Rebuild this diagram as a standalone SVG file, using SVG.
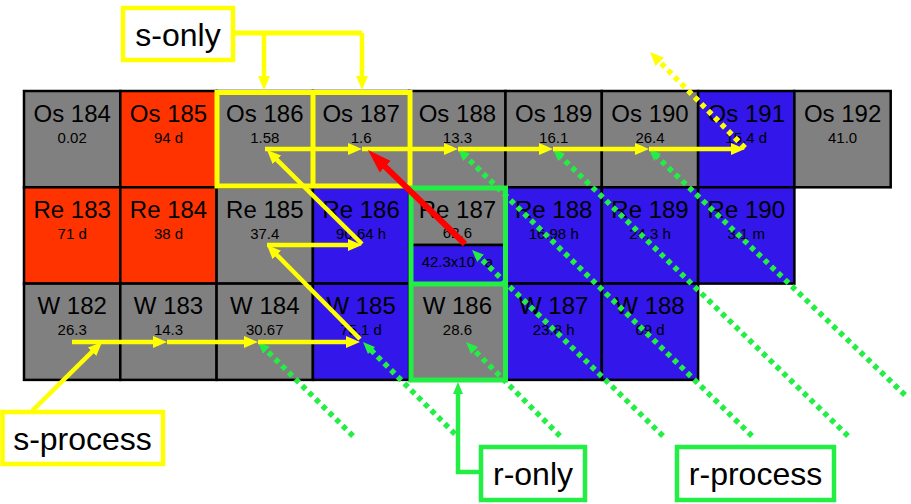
<svg xmlns="http://www.w3.org/2000/svg" width="911" height="504" viewBox="0 0 911 504">
<style>
text{font-family:"Liberation Sans",Arial,sans-serif;fill:#000}
.cell{stroke:#000;stroke-width:2.5}
.g{fill:#808080}.r{fill:#FF3300}.b{fill:#3216EA}
.nm{font-size:24px;text-anchor:middle}
.v{font-size:15px;text-anchor:middle}
.lbl{font-size:32px;text-anchor:middle}
.ys{fill:none;stroke:#FFFF00;stroke-width:5}
.gs{fill:none;stroke:#22EE44;stroke-width:5}
.ya{fill:none;stroke:#FFFF00;stroke-width:4.5;marker-end:url(#ay)}
.ga{fill:none;stroke:#22EE44;stroke-width:4.5;marker-end:url(#ag)}
.gd{fill:none;stroke:#22EE44;stroke-width:5.5;stroke-dasharray:5 4.5;marker-end:url(#ag)}
.yd{fill:none;stroke:#FFFF00;stroke-width:5.5;stroke-dasharray:5 4.5;marker-end:url(#ay)}
.ra{fill:none;stroke:#FF0000;stroke-width:6;marker-end:url(#ar)}
.box{fill:#fff;stroke-width:4.5}
</style>
<defs>
<marker id="ay" markerUnits="userSpaceOnUse" markerWidth="16" markerHeight="14" refX="2" refY="6" orient="auto"><path d="M0,0 L14,6 L0,12 z" fill="#FFFF00"/></marker>
<marker id="ag" markerUnits="userSpaceOnUse" markerWidth="14" markerHeight="12" refX="2" refY="5" orient="auto"><path d="M0,0 L12,5 L0,10 z" fill="#22EE44"/></marker>
<marker id="ar" markerUnits="userSpaceOnUse" markerWidth="26" markerHeight="18" refX="2" refY="8" orient="auto"><path d="M0,0 L24,8 L0,16 z" fill="#FF0000"/></marker>
</defs>
<rect width="911" height="504" fill="#fff"/>

<!-- Row 1: Os -->
<g id="os184"><rect class="cell g" x="24" y="91" width="96.3" height="96.3"/><text class="nm" x="72.2" y="121.5">Os 184</text><text class="v" x="72.2" y="142.5">0.02</text></g>
<g id="os185"><rect class="cell r" x="120.3" y="91" width="96.3" height="96.3"/><text class="nm" x="168.5" y="121.5">Os 185</text><text class="v" x="168.5" y="142.5">94 d</text></g>
<g id="os186"><rect class="cell g" x="216.6" y="91" width="96.3" height="96.3"/><text class="nm" x="264.8" y="121.5">Os 186</text><text class="v" x="264.8" y="142.5">1.58</text></g>
<g id="os187"><rect class="cell g" x="312.9" y="91" width="96.3" height="96.3"/><text class="nm" x="361.1" y="121.5">Os 187</text><text class="v" x="361.1" y="142.5">1.6</text></g>
<g id="os188"><rect class="cell g" x="409.2" y="91" width="96.3" height="96.3"/><text class="nm" x="457.4" y="121.5">Os 188</text><text class="v" x="457.4" y="142.5">13.3</text></g>
<g id="os189"><rect class="cell g" x="505.5" y="91" width="96.3" height="96.3"/><text class="nm" x="553.7" y="121.5">Os 189</text><text class="v" x="553.7" y="142.5">16.1</text></g>
<g id="os190"><rect class="cell g" x="601.8" y="91" width="96.3" height="96.3"/><text class="nm" x="650" y="121.5">Os 190</text><text class="v" x="650" y="142.5">26.4</text></g>
<g id="os191"><rect class="cell b" x="698.1" y="91" width="96.3" height="96.3"/><text class="nm" x="746.3" y="121.5">Os 191</text><text class="v" x="746.3" y="142.5">15.4 d</text></g>
<g id="os192"><rect class="cell g" x="794.4" y="91" width="96.3" height="96.3"/><text class="nm" x="842.6" y="121.5">Os 192</text><text class="v" x="842.6" y="142.5">41.0</text></g>

<!-- Row 2: Re -->
<g id="re183"><rect class="cell r" x="24" y="187.3" width="96.3" height="96.3"/><text class="nm" x="72.2" y="217.8">Re 183</text><text class="v" x="72.2" y="238.8">71 d</text></g>
<g id="re184"><rect class="cell r" x="120.3" y="187.3" width="96.3" height="96.3"/><text class="nm" x="168.5" y="217.8">Re 184</text><text class="v" x="168.5" y="238.8">38 d</text></g>
<g id="re185"><rect class="cell g" x="216.6" y="187.3" width="96.3" height="96.3"/><text class="nm" x="264.8" y="217.8">Re 185</text><text class="v" x="264.8" y="238.8">37.4</text></g>
<g id="re186"><rect class="cell b" x="312.9" y="187.3" width="96.3" height="96.3"/><text class="nm" x="361.1" y="217.8">Re 186</text><text class="v" x="361.1" y="238.8">90.64 h</text></g>
<g id="re187"><rect class="cell g" x="409.2" y="187.3" width="96.3" height="57.7"/><rect class="cell b" x="409.2" y="245" width="96.3" height="38.6"/><text class="nm" x="457.4" y="217.8">Re 187</text><text class="v" x="457.4" y="238.3">62.6</text><text class="v" x="457.4" y="266.5">42.3x10<tspan font-size="10" dy="-6">9</tspan><tspan dy="6"> a</tspan></text></g>
<g id="re188"><rect class="cell b" x="505.5" y="187.3" width="96.3" height="96.3"/><text class="nm" x="553.7" y="217.8">Re 188</text><text class="v" x="553.7" y="238.8">16.98 h</text></g>
<g id="re189"><rect class="cell b" x="601.8" y="187.3" width="96.3" height="96.3"/><text class="nm" x="650" y="217.8">Re 189</text><text class="v" x="650" y="238.8">24.3 h</text></g>
<g id="re190"><rect class="cell b" x="698.1" y="187.3" width="96.3" height="96.3"/><text class="nm" x="746.3" y="217.8">Re 190</text><text class="v" x="746.3" y="238.8">3.1 m</text></g>

<!-- Row 3: W -->
<g id="w182"><rect class="cell g" x="24" y="283.6" width="96.3" height="96.3"/><text class="nm" x="72.2" y="314.1">W 182</text><text class="v" x="72.2" y="335.1">26.3</text></g>
<g id="w183"><rect class="cell g" x="120.3" y="283.6" width="96.3" height="96.3"/><text class="nm" x="168.5" y="314.1">W 183</text><text class="v" x="168.5" y="335.1">14.3</text></g>
<g id="w184"><rect class="cell g" x="216.6" y="283.6" width="96.3" height="96.3"/><text class="nm" x="264.8" y="314.1">W 184</text><text class="v" x="264.8" y="335.1">30.67</text></g>
<g id="w185"><rect class="cell b" x="312.9" y="283.6" width="96.3" height="96.3"/><text class="nm" x="361.1" y="314.1">W 185</text><text class="v" x="361.1" y="335.1">75.1 d</text></g>
<g id="w186"><rect class="cell g" x="409.2" y="283.6" width="96.3" height="96.3"/><text class="nm" x="457.4" y="314.1">W 186</text><text class="v" x="457.4" y="335.1">28.6</text></g>
<g id="w187"><rect class="cell b" x="505.5" y="283.6" width="96.3" height="96.3"/><text class="nm" x="553.7" y="314.1">W 187</text><text class="v" x="553.7" y="335.1">23.8 h</text></g>
<g id="w188"><rect class="cell b" x="601.8" y="283.6" width="96.3" height="96.3"/><text class="nm" x="650" y="314.1">W 188</text><text class="v" x="650" y="335.1">69 d</text></g>

<!-- highlight boxes -->
<g id="s-only-highlight"><rect class="ys" x="217" y="92.5" width="193" height="93.5"/><line class="ys" x1="313" y1="92.5" x2="313" y2="186"/></g>
<g id="r-only-highlight"><rect class="gs" x="411" y="188" width="94.5" height="192"/><line class="gs" x1="411" y1="284" x2="505.5" y2="284"/></g>

<!-- connectors -->
<g id="connectors">
<path class="gd" d="M353,436 L265.1,349"/>
<path class="gd" d="M455,434 L370.1,349.1"/>
<path class="gd" d="M560,436 L473.1,349.1"/>
<path class="gd" d="M663,436 L479.2,257"/>
<path class="gd" d="M752,436 L465.2,156"/>
<path class="gd" d="M848,436 L560.2,156"/>
<path class="gd" d="M905,395 L656.2,155.9"/>
<path class="ya" d="M72,342 L155,342"/>
<path class="ya" d="M167,342 L246,342"/>
<path class="ya" d="M258,342 L348,342"/>
<path class="ya" d="M360,339 L275.4,253.5"/>
<path class="ya" d="M267,245 L350,245"/>
<path class="ya" d="M362,244 L275.5,158.4"/>
<path class="ya" d="M265,149 L350,149"/>
<path class="ya" d="M362,149 L446,149"/>
<path class="ya" d="M458,149 L541,149"/>
<path class="ya" d="M553,149 L637,149"/>
<path class="ya" d="M649,149 L733,149"/>
<path class="yd" d="M745,148 L658.4,60.5"/>
<path class="ra" d="M465,244 L383.8,165.3"/>
<path class="ya" d="M32,411 L93.5,350.4"/>
<path class="ys" d="M233,33 L362,33"/>
<path class="ya" d="M362,33 L362,78"/>
<path class="ya" d="M264,33 L264,78"/>
<path class="ga" d="M481,472 L458,472 L458,392"/>
</g>

<!-- labels -->
<g id="s-only"><rect class="box" x="123" y="8" width="110" height="52" stroke="#FFFF00"/><text class="lbl" x="178" y="46">s-only</text></g>
<g id="s-process"><rect class="box" x="2.5" y="412" width="160.5" height="52" stroke="#FFFF00"/><text class="lbl" x="82.5" y="450">s-process</text></g>
<g id="r-only"><rect class="box" x="481" y="447" width="104" height="53" stroke="#22EE44"/><text class="lbl" x="533" y="485">r-only</text></g>
<g id="r-process"><rect class="box" x="677" y="447" width="157" height="53" stroke="#22EE44"/><text class="lbl" x="755.5" y="485">r-process</text></g>
</svg>
